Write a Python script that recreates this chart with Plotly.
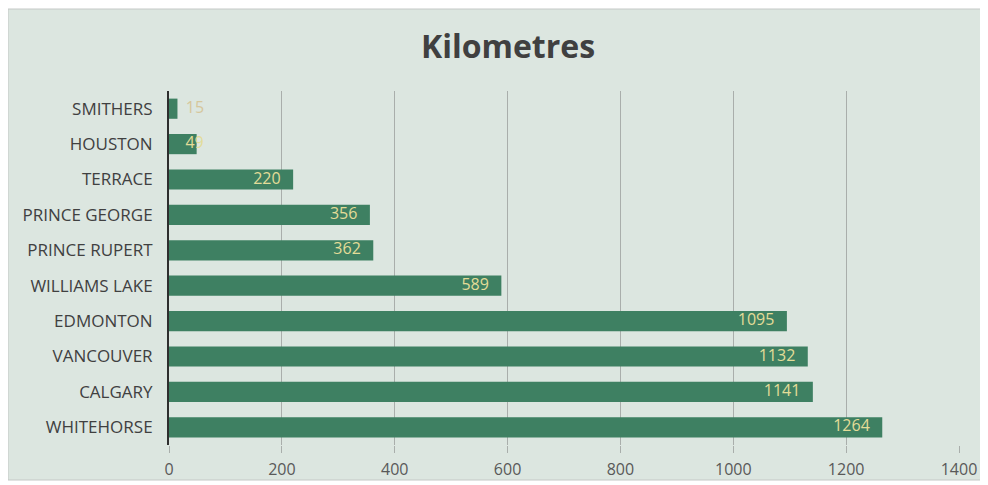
import plotly.graph_objects as go

cities = ["SMITHERS", "HOUSTON", "TERRACE", "PRINCE GEORGE", "PRINCE RUPERT",
          "WILLIAMS LAKE", "EDMONTON", "VANCOUVER", "CALGARY", "WHITEHORSE"]
kilometres = [15, 49, 220, 356, 362, 589, 1095, 1132, 1141, 1264]
tick_values = [0, 200, 400, 600, 800, 1000, 1200, 1400]

NB = "\u00a0"
label_pos = ["middle right", "middle center"] + ["middle left"] * 8
label_txt = [NB * 2 + str(kilometres[0]), str(kilometres[1]) + NB] + \
            [str(v) + NB * 3 for v in kilometres[2:]]
label_col = ["#d6c79c"] + ["#e3dc98"] * 9

# page body has an 8px margin; figure coordinates are reference - 8
W, H = 980, 477
L, R, T, B = 161, 29, 83, 40
pw, ph = W - L - R, H - T - B

def px(x):
    return (x - L) / pw

def py(y):
    return (H - B - y) / ph

fig = go.Figure()
fig.add_trace(go.Bar(
    x=kilometres, y=cities, orientation="h",
    marker=dict(color="#3e8062", line=dict(width=0)),
    hoverinfo="skip",
))
fig.add_trace(go.Scatter(
    x=kilometres, y=cities, mode="text",
    text=label_txt,
    textposition=label_pos,
    textfont=dict(color=label_col, size=16, family="Open Sans"),
    hoverinfo="skip", cliponaxis=False,
))

fig.add_shape(type="rect", xref="paper", yref="paper",
              x0=px(0), x1=px(990), y0=py(472), y1=py(1),
              fillcolor="#dce6e0", line=dict(color="#c4c8c6", width=1),
              layer="below")

fig.update_layout(
    width=W, height=H,
    margin=dict(l=L, r=R, t=T, b=B),
    paper_bgcolor="white", plot_bgcolor="rgba(0,0,0,0)",
    showlegend=False, bargap=0.43,
    title=dict(text="<b>Kilometres</b>", x=500 / W, xref="container", xanchor="center",
               y=1 - 39 / H, yref="container", yanchor="middle",
               font=dict(size=32, color="#404040", family="Open Sans")),
    font=dict(family="Open Sans", color="#595959", size=16),
    xaxis=dict(range=[0, 1400], tickvals=tick_values, showgrid=True,
               gridcolor="#a9aeab", gridwidth=1, zeroline=False,
               ticks="outside", ticklen=7, tickcolor="#a9aeab",
               ticklabelstandoff=3, automargin=False,
               tickfont=dict(size=16, color="#595959"), showline=False),
    yaxis=dict(autorange="reversed", showgrid=False, showline=True,
               linecolor="#2e2e2e", linewidth=2, ticks="", ticklabelstandoff=11,
               automargin=False,
               tickfont=dict(size=17, color="#404040")),
)

fig.write_html("out.html")
